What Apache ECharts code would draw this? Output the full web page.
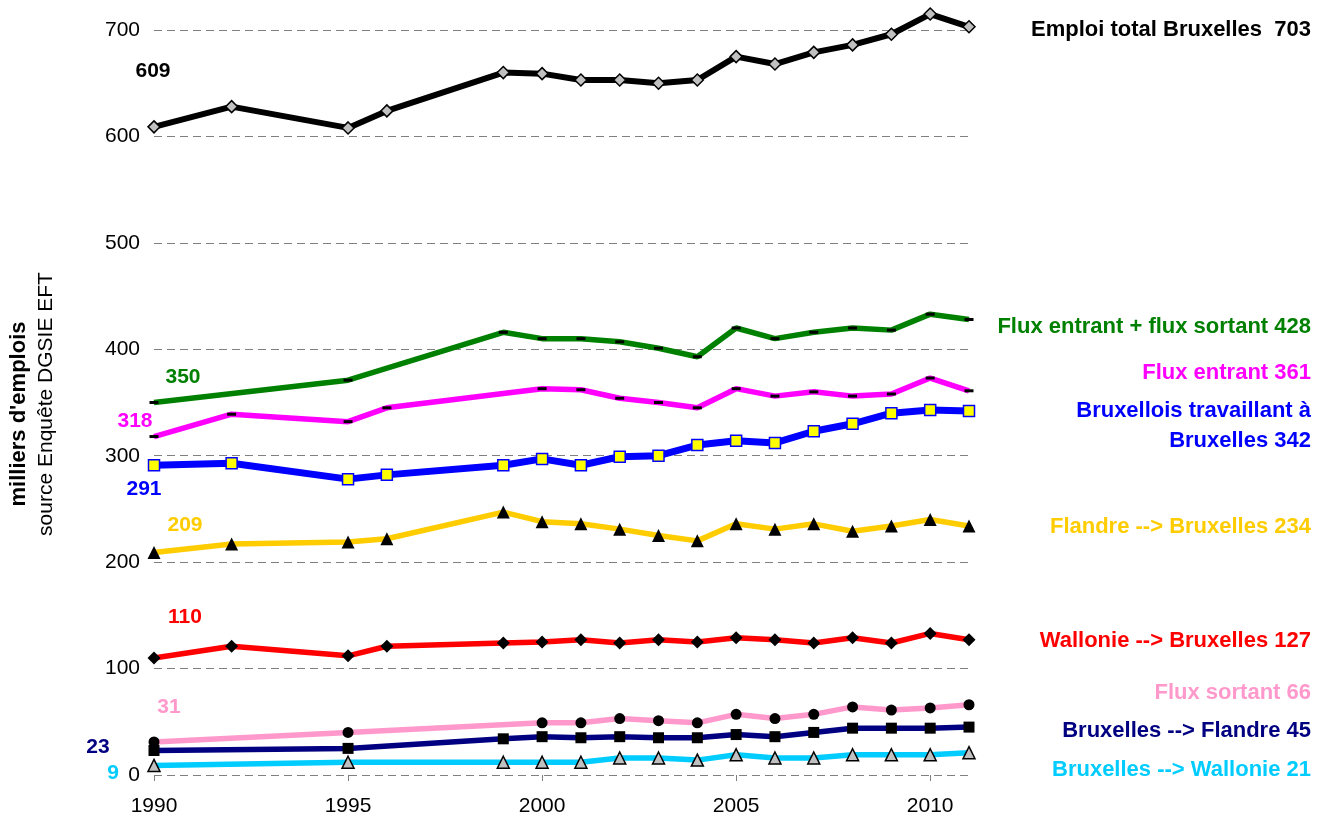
<!DOCTYPE html>
<html lang="fr">
<head>
  <meta charset="UTF-8">
  <title>Emploi Bruxelles</title>
  <style>
    html, body { margin: 0; padding: 0; background: #fff; }
  </style>
</head>
<body>
  <div id="main" style="width:1328px;height:816px;"></div>
  <script src="https://cdn.jsdelivr.net/npm/echarts@6/dist/echarts.min.js"></script>
  <script>
  // années (séries avec des points manquants)
  var yearsAll = [1990, 1992, 1995, 1996, 1999, 2000, 2001, 2002, 2003, 2004, 2005, 2006, 2007, 2008, 2009, 2010, 2011]
  var yearsB = [1990, 1995, 1999, 2000, 2001, 2002, 2003, 2004, 2005, 2006, 2007, 2008, 2009, 2010, 2011]
  var yearsEntrant = [1990, 1992, 1995, 1996, 2000, 2001, 2002, 2003, 2004, 2005, 2006, 2007, 2008, 2009, 2010, 2011]
  var yearsSortant = [1990, 1995, 2000, 2001, 2002, 2003, 2004, 2005, 2006, 2007, 2008, 2009, 2010, 2011]

  // milliers d'emplois
  var emploiTotal = [609, 628, 608, 624, 660, 659, 653, 653, 650, 653, 675, 668, 679, 686, 696, 715, 703]
  var fluxTotal = [350, 371, 416, 410, 410, 407, 401, 393, 420, 410, 416, 420, 418, 433, 428]
  var fluxEntrant = [318, 339, 332, 345, 363, 362, 354, 350, 345, 363, 356, 360, 356, 358, 373, 361]
  var bxlBxl = [291, 293, 278, 282, 291, 297, 291, 299, 300, 310, 314, 312, 323, 330, 340, 343, 342]
  var flandreBxl = [209, 217, 219, 222, 247, 238, 236, 231, 225, 220, 236, 231, 236, 229, 234, 240, 234]
  var wallonieBxl = [110, 121, 112, 121, 124, 125, 127, 124, 127, 125, 129, 127, 124, 129, 124, 133, 127]
  var fluxSortant = [31, 40, 49, 49, 53, 51, 49, 57, 53, 57, 64, 61, 63, 66]
  var bxlFlandre = [23, 25, 34, 36, 35, 36, 35, 35, 38, 36, 40, 44, 44, 44, 45]
  var bxlWallonie = [9, 12, 12, 12, 12, 16, 16, 14, 19, 16, 16, 19, 19, 19, 21]

  var xTicks = [1990, 1995, 2000, 2005, 2010]

  var FONT = "'Liberation Sans', Arial, sans-serif"
  var last = function (a) { return a[a.length - 1] }
  var pairs = function (xs, ys) { return xs.map(function (x, i) { return [x, ys[i]] }) }

  var myChart = echarts.init(document.getElementById('main'))

  function line(name, years, vals, color, symbol, size, itemColor, borderColor, width) {
    return {
      name: name,
      type: 'line',
      data: pairs(years, vals),
      symbol: symbol,
      symbolSize: size,
      showSymbol: true,
      clip: false,
      lineStyle: { color: color, width: width || 5.5 },
      itemStyle: { color: itemColor, borderColor: borderColor || itemColor, borderWidth: borderColor ? 1.5 : 0, opacity: 1 },
      emphasis: { disabled: true },
      animation: false
    }
  }

  var series = [
    line('Bruxelles --> Wallonie', yearsB, bxlWallonie, '#00ccff', 'triangle', 12, '#c0c0c0', '#000'),
    line('Bruxelles --> Flandre', yearsB, bxlFlandre, '#000080', 'rect', 11, '#000'),
    line('Flux sortant', yearsSortant, fluxSortant, '#ff99cc', 'circle', 11, '#000'),
    line('Wallonie --> Bruxelles', yearsAll, wallonieBxl, '#ff0000', 'diamond', 13, '#000'),
    line('Flandre --> Bruxelles', yearsAll, flandreBxl, '#ffcc00', 'triangle', 13, '#000'),
    line('Bruxellois travaillant à Bruxelles', yearsAll, bxlBxl, '#0000ff', 'rect', 11, '#ffff00', '#0000ff', 7),
    line('Flux entrant', yearsEntrant, fluxEntrant, '#ff00ff', 'rect', [9, 3], '#000'),
    line('Flux entrant + flux sortant', yearsB, fluxTotal, '#008000', 'rect', [9, 3], '#000'),
    line('Emploi total Bruxelles', yearsAll, emploiTotal, '#000000', 'diamond', 12, '#c0c0c0', '#000', 6)
  ]

  function txt(x, y, text, color, align, size) {
    return {
      type: 'text', x: x, y: y, silent: true,
      style: {
        text: text, fill: color, align: align, verticalAlign: 'middle',
        font: 'bold ' + (size || 21) + 'px ' + FONT
      }
    }
  }

  var graphic = [
    // étiquettes de fin de série
    txt(1311, 30, 'Emploi total Bruxelles  ' + last(emploiTotal), '#000', 'right', 22),
    txt(1311, 327, 'Flux entrant + flux sortant ' + last(fluxTotal), '#008000', 'right', 22),
    txt(1311, 373, 'Flux entrant ' + last(fluxEntrant), '#ff00ff', 'right', 22),
    txt(1311, 411, 'Bruxellois travaillant à', '#0000ff', 'right', 22),
    txt(1311, 441, 'Bruxelles ' + last(bxlBxl), '#0000ff', 'right', 22),
    txt(1311, 527, 'Flandre --> Bruxelles ' + last(flandreBxl), '#ffcc00', 'right', 22),
    txt(1311, 641, 'Wallonie --> Bruxelles ' + last(wallonieBxl), '#ff0000', 'right', 22),
    txt(1311, 693, 'Flux sortant ' + last(fluxSortant), '#ff99cc', 'right', 22),
    txt(1311, 731, 'Bruxelles --> Flandre ' + last(bxlFlandre), '#000080', 'right', 22),
    txt(1311, 770, 'Bruxelles --> Wallonie ' + last(bxlWallonie), '#00ccff', 'right', 22),
    // étiquettes de début (1990)
    txt(153, 71, String(emploiTotal[0]), '#000', 'center'),
    txt(183, 377, String(fluxTotal[0]), '#008000', 'center'),
    txt(135, 421, String(fluxEntrant[0]), '#ff00ff', 'center'),
    txt(144, 489, String(bxlBxl[0]), '#0000ff', 'center'),
    txt(185, 525, String(flandreBxl[0]), '#ffcc00', 'center'),
    txt(185, 617, String(wallonieBxl[0]), '#ff0000', 'center'),
    txt(169, 707, String(fluxSortant[0]), '#ff99cc', 'center'),
    txt(98, 747, String(bxlFlandre[0]), '#000080', 'center'),
    txt(113, 773, String(bxlWallonie[0]), '#00ccff', 'center'),
    // titre de l'axe
    {
      type: 'text', x: 19, y: 414, rotation: Math.PI / 2, silent: true,
      style: { text: "milliers d'emplois", fill: '#000', align: 'center', verticalAlign: 'middle', font: 'bold 22px ' + FONT }
    },
    {
      type: 'text', x: 46, y: 404, rotation: Math.PI / 2, silent: true,
      style: { text: 'source Enquête DGSIE EFT', fill: '#000', align: 'center', verticalAlign: 'middle', font: '21px ' + FONT }
    }
  ]

  var option = {
    animation: false,
    backgroundColor: '#fff',
    grid: { left: 154, right: 359, top: 30, bottom: 41, outerBoundsMode: 'none' },
    xAxis: {
      type: 'value',
      min: 1990,
      max: 2011,
      interval: 5,
      axisLine: { show: false },
      axisTick: { show: true, customValues: xTicks, length: 6, lineStyle: { color: '#808080' } },
      axisLabel: {
        customValues: xTicks, color: '#000', fontSize: 21, fontFamily: FONT, margin: 21,
        formatter: function (v) { return String(v) }
      },
      splitLine: { show: false }
    },
    yAxis: {
      type: 'value',
      min: 0,
      max: 700,
      interval: 100,
      axisLine: { show: false },
      axisTick: { show: false },
      axisLabel: { color: '#000', fontSize: 21, fontFamily: FONT, margin: 14 },
      splitLine: { show: true, lineStyle: { color: '#808080', type: [8, 5], width: 1 } }
    },
    series: series,
    graphic: graphic
  }
  myChart.setOption(option)
  </script>
</body>
</html>
